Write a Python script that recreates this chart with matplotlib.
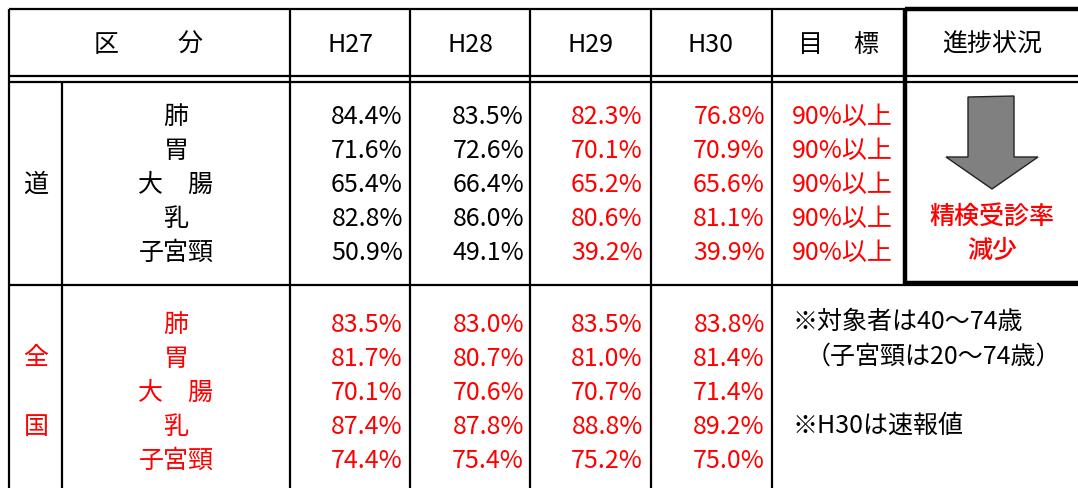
"""がん検診 精検受診率の表（道・全国）を再現する。"""
import matplotlib
matplotlib.use("Agg")
import matplotlib.pyplot as plt  # noqa: E402
from matplotlib.patches import Polygon, Rectangle  # noqa: E402

plt.rcParams["font.family"] = ["Noto Sans CJK JP", "DejaVu Sans"]

# ---------- データ ----------
years = ["H27", "H28", "H29", "H30"]
cancers = ["肺", "胃", "大　腸", "乳", "子宮頸"]
goal = "90%以上"

do_h27 = [84.4, 71.6, 65.4, 82.8, 50.9]
do_h28 = [83.5, 72.6, 66.4, 86.0, 49.1]
do_h29 = [82.3, 70.1, 65.2, 80.6, 39.2]
do_h30 = [76.8, 70.9, 65.6, 81.1, 39.9]

zen_h27 = [83.5, 81.7, 70.1, 87.4, 74.4]
zen_h28 = [83.0, 80.7, 70.6, 87.8, 75.4]
zen_h29 = [83.5, 81.0, 70.7, 88.8, 75.2]
zen_h30 = [83.8, 81.4, 71.4, 89.2, 75.0]

progress = ["精検受診率", "減少"]
notes = ["※対象者は40～74歳", "（子宮頸は20～74歳）", "※H30は速報値"]

RED = "#FF0000"
FS = 18

# ---------- 描画（ピクセル座標） ----------
fig = plt.figure(figsize=(10.78, 4.88), dpi=100)
ax = fig.add_axes([0, 0, 1, 1])
ax.set_xlim(0, 1078)
ax.set_ylim(488, 0)
ax.axis("off")

L, R, B = 8.5, 1080, 490
col_x = [290, 410, 530, 651, 772]      # 縦罫線
num_right = [403, 524, 643, 765]       # 数値の右端


def hline(y, x1=L, x2=R, lw=1.6):
    ax.plot([x1, x2], [y, y], color="black", lw=lw, solid_capstyle="butt")


def vline(x, y1, y2=B, lw=1.6):
    ax.plot([x, x], [y1, y2], color="black", lw=lw, solid_capstyle="butt")


# 罫線
hline(8.5)
hline(76)
hline(82)
hline(285)
vline(L, 8.5)
vline(62, 82)
for x in col_x:
    vline(x, 8.5)
# 進捗状況の太枠
ax.add_patch(Rectangle((905, 9), 200, 274, fill=False, lw=3.2,
                       edgecolor="black"))

# 見出し
hy = 45
ax.text(106, hy, "区", fontsize=FS, ha="center", va="center")
ax.text(190, hy, "分", fontsize=FS, ha="center", va="center")
for x, yr in zip([350, 470, 591, 711], years):
    ax.text(x, hy, yr, fontsize=FS, ha="center", va="center")
ax.text(811, hy, "目", fontsize=FS, ha="center", va="center")
ax.text(866, hy, "標", fontsize=FS, ha="center", va="center")
ax.text(992, hy, "進捗状況", fontsize=FS, ha="center", va="center")

# 道
do_rows = [117, 151, 185, 219, 253]
ax.text(36, 185, "道", fontsize=FS, ha="center", va="center")
do_cols = [do_h27, do_h28, do_h29, do_h30]
do_colors = ["black", "black", RED, RED]
for i, (y, name) in enumerate(zip(do_rows, cancers)):
    ax.text(176, y, name, fontsize=FS, ha="center", va="center")
    for xr, vals, c in zip(num_right, do_cols, do_colors):
        ax.text(xr, y, f"{vals[i]:.1f}%", fontsize=FS, ha="right",
                va="center", color=c)
    ax.text(792, y, goal, fontsize=FS, ha="left", va="center", color=RED)

# 全国
zen_rows = [325, 359, 393, 427, 461]
ax.text(36, 358, "全", fontsize=FS, ha="center", va="center", color=RED)
ax.text(36, 427, "国", fontsize=FS, ha="center", va="center", color=RED)
zen_cols = [zen_h27, zen_h28, zen_h29, zen_h30]
for i, (y, name) in enumerate(zip(zen_rows, cancers)):
    ax.text(176, y, name, fontsize=FS, ha="center", va="center", color=RED)
    for xr, vals in zip(num_right, zen_cols):
        ax.text(xr, y, f"{vals[i]:.1f}%", fontsize=FS, ha="right",
                va="center", color=RED)

# 注記
ax.text(792, 322, notes[0], fontsize=FS, ha="left", va="center")
ax.text(806, 357, notes[1], fontsize=FS, ha="left", va="center")
ax.text(792, 426, notes[2], fontsize=FS, ha="left", va="center")

# 下向き矢印
arrow = [(968, 97), (1014, 96), (1014, 157), (1038, 157), (992, 189),
         (946, 157), (968, 157)]
ax.add_patch(Polygon(arrow, closed=True, facecolor="#808080",
                     edgecolor="#222222", lw=1.0))
ax.text(992, 218, progress[0], fontsize=FS, ha="center", va="center",
        color=RED, fontweight="medium")
ax.text(992, 251, progress[1], fontsize=FS, ha="center", va="center",
        color=RED, fontweight="medium")

fig.savefig("out.png", dpi=100)
plt.close(fig)
